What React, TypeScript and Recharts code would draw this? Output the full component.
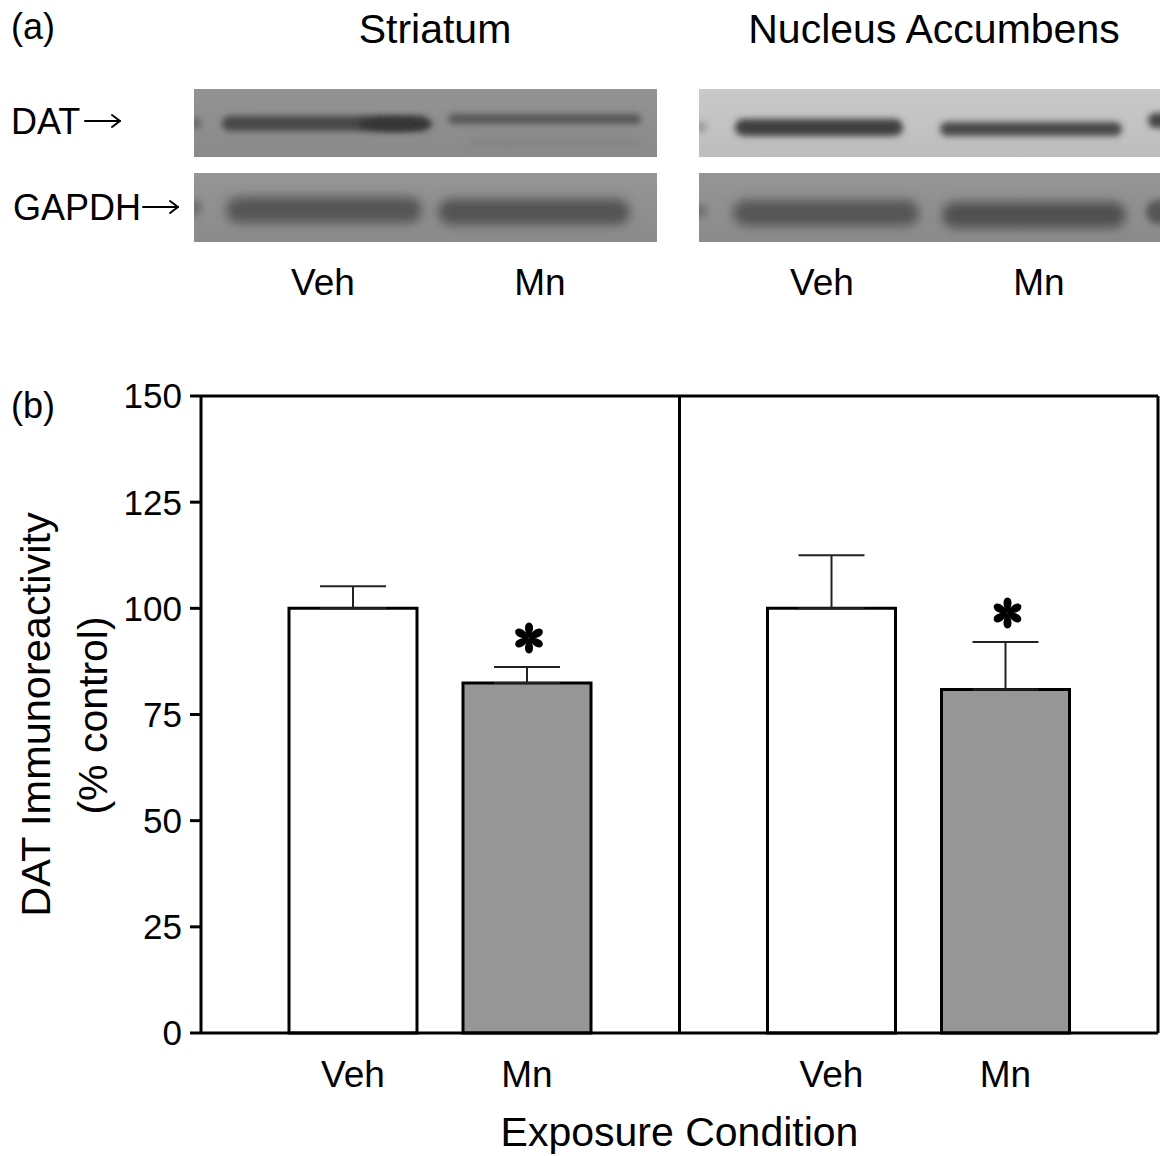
import React from 'react';
import {
  BarChart,
  Bar,
  XAxis,
  YAxis,
  ErrorBar,
  LabelList,
  CartesianGrid,
  Label,
} from 'recharts';

// ---------------- data ----------------
const regions = ['Striatum', 'Nucleus Accumbens'];
const conditions = ['Veh', 'Mn'];
const vehMean = [100, 100];
const vehSem = [5.2, 12.5];
const mnMean = [82.4, 80.9];
const mnSem = [3.8, 11.2];
const significant = [true, true];
const yTicks = [0, 25, 50, 75, 100, 125, 150];
const blotProteins = ['DAT', 'GAPDH'];

const data = regions.map((r, i) => ({
  region: r,
  veh: vehMean[i],
  vehErr: [0, vehSem[i]],
  mn: mnMean[i],
  mnErr: [0, mnSem[i]],
}));

const FONT = '"Liberation Sans", Arial, Helvetica, sans-serif';

// ---------------- panel (a): western blot ----------------
function Band(props: any) {
  const { x, y, w, h, fill, blur } = props;
  return (
    <rect x={x} y={y} width={w} height={h} rx={h / 2} ry={h / 2} fill={fill} filter={`url(#${blur})`} />
  );
}

function Arrow(props: any) {
  const { x, y, len } = props;
  return (
    <g stroke="#000" strokeWidth={2} fill="none" strokeLinecap="round" strokeLinejoin="round">
      <line x1={x} y1={y} x2={x + len} y2={y} />
      <polyline points={`${x + len - 8},${y - 6} ${x + len},${y} ${x + len - 8},${y + 6}`} />
    </g>
  );
}

function BlotPanel() {
  return (
    <svg width={1160} height={1156} style={{ position: 'absolute', left: 0, top: 0 }} fontFamily={FONT}>
      <defs>
        <filter id="b2" x="-30%" y="-200%" width="160%" height="500%">
          <feGaussianBlur stdDeviation="3" />
        </filter>
        <filter id="b3" x="-30%" y="-200%" width="160%" height="500%">
          <feGaussianBlur stdDeviation="3.5" />
        </filter>
        <filter id="b5" x="-30%" y="-200%" width="160%" height="500%">
          <feGaussianBlur stdDeviation="5.5" />
        </filter>
        <clipPath id="cL1"><rect x={194} y={89} width={463} height={68} /></clipPath>
        <clipPath id="cL2"><rect x={194} y={173} width={463} height={69} /></clipPath>
        <clipPath id="cR1"><rect x={699} y={89} width={461} height={68} /></clipPath>
        <clipPath id="cR2"><rect x={699} y={173} width={461} height={69} /></clipPath>
        <linearGradient id="gL1" x1="0" y1="0" x2="0" y2="1">
          <stop offset="0" stopColor="#939393" />
          <stop offset="1" stopColor="#8a8a8a" />
        </linearGradient>
        <linearGradient id="gR1" x1="0" y1="0" x2="0" y2="1">
          <stop offset="0" stopColor="#c9c9c9" />
          <stop offset="1" stopColor="#bdbdbd" />
        </linearGradient>
        <linearGradient id="gG" x1="0" y1="0" x2="0" y2="1">
          <stop offset="0" stopColor="#959595" />
          <stop offset="1" stopColor="#8b8b8b" />
        </linearGradient>
      </defs>

      <text x={11} y={39} fontSize={36} fill="#000">(a)</text>
      <text x={435} y={43} fontSize={41} textAnchor="middle" fill="#000">{regions[0]}</text>
      <text x={934} y={43} fontSize={41} textAnchor="middle" fill="#000">{regions[1]}</text>

      <text x={11} y={134} fontSize={36} fill="#000">{blotProteins[0]}</text>
      <Arrow x={85} y={121} len={35} />
      <text x={13} y={220} fontSize={36} fill="#000">{blotProteins[1]}</text>
      <Arrow x={143} y={207} len={35} />

      {/* Striatum DAT */}
      <g clipPath="url(#cL1)">
        <rect x={194} y={89} width={463} height={68} fill="url(#gL1)" />
        <Band x={222} y={116} w={206} h={15} fill="#474747" blur="b2" />
        <ellipse cx={395} cy={124} rx={38} ry={7} fill="#353535" filter="url(#b2)" />
        <Band x={448} y={114} w={193} h={10} fill="#575757" blur="b2" />
        <Band x={470} y={141} w={170} h={4} fill="#7e7e7e" blur="b2" />
        <Band x={188} y={118} w={14} h={10} fill="#6a6a6a" blur="b2" />
      </g>
      {/* Striatum GAPDH */}
      <g clipPath="url(#cL2)">
        <rect x={194} y={173} width={463} height={69} fill="url(#gG)" />
        <Band x={226} y={197} w={196} h={26} fill="#555" blur="b5" />
        <Band x={438} y={199} w={192} h={26} fill="#525252" blur="b5" />
        <Band x={188} y={200} w={14} h={16} fill="#6e6e6e" blur="b3" />
      </g>
      {/* NAc DAT */}
      <g clipPath="url(#cR1)">
        <rect x={699} y={89} width={461} height={68} fill="url(#gR1)" />
        <Band x={735} y={119} w={168} h={17} fill="#3f3f3f" blur="b2" />
        <Band x={940} y={122} w={182} h={14} fill="#4a4a4a" blur="b2" />
        <Band x={1148} y={113} w={30} h={15} fill="#444" blur="b2" />
        <Band x={693} y={122} w={14} h={10} fill="#9a9a9a" blur="b2" />
      </g>
      {/* NAc GAPDH */}
      <g clipPath="url(#cR2)">
        <rect x={699} y={173} width={461} height={69} fill="url(#gG)" />
        <Band x={733} y={200} w={186} h={26} fill="#545454" blur="b5" />
        <Band x={942} y={202} w={184} h={26} fill="#505050" blur="b5" />
        <Band x={1146} y={200} w={30} h={24} fill="#555" blur="b3" />
        <Band x={693} y={204} w={14} h={14} fill="#707070" blur="b3" />
      </g>

      <text x={323} y={295} fontSize={37} textAnchor="middle" fill="#000">{conditions[0]}</text>
      <text x={540} y={295} fontSize={37} textAnchor="middle" fill="#000">{conditions[1]}</text>
      <text x={822} y={295} fontSize={37} textAnchor="middle" fill="#000">{conditions[0]}</text>
      <text x={1039} y={295} fontSize={37} textAnchor="middle" fill="#000">{conditions[1]}</text>

      <text x={11} y={418} fontSize={36} fill="#000">(b)</text>
    </svg>
  );
}

// ---------------- panel (b): bar chart ----------------
const getBox = (props: any) => {
  const vb = props.viewBox && props.viewBox.width !== undefined ? props.viewBox : props;
  return { x: Number(vb.x), y: Number(vb.y), width: Number(vb.width), height: Number(vb.height) };
};

const conditionLabel = (ci: number) => (props: any) => {
  const { x, y, width, height } = getBox(props);
  return (
    <text x={x + width / 2} y={y + height + 54} textAnchor="middle" fontSize={37} fontFamily={FONT} fill="#000">
      {conditions[ci]}
    </text>
  );
};

const ARM = 'M0,0 C-5.2,-6 -5.5,-15 0,-15.5 C5.5,-15 5.2,-6 0,0 Z';

const sigMark = (props: any) => {
  const i = props.index;
  if (!significant[i]) return null;
  const { x, y, width, height } = getBox(props);
  const pxPerUnit = height / mnMean[i];
  const cx = x + width / 2 + 2;
  const cy = y - mnSem[i] * pxPerUnit - 29;
  return (
    <g transform={`translate(${cx},${cy})`}>
      {[0, 60, 120, 180, 240, 300].map((a) => (
        <path key={a} d={ARM} transform={`rotate(${a})`} fill="#000" />
      ))}
    </g>
  );
};

const YLabel = (props: any) => {
  const vb = props.viewBox || {};
  const cy = vb.y + vb.height / 2;
  return (
    <g fontFamily={FONT} fill="#000">
      <text transform={`translate(50, ${cy}) rotate(-90)`} textAnchor="middle" fontSize={41.5}>
        DAT Immunoreactivity
      </text>
      <text transform={`translate(107, ${cy + 1}) rotate(-90)`} textAnchor="middle" fontSize={41}>
        (% control)
      </text>
    </g>
  );
};

const XLabel = (props: any) => {
  const vb = props.viewBox || {};
  return (
    <text x={vb.x + vb.width / 2} y={vb.y + 113} textAnchor="middle" fontSize={41} fontFamily={FONT} fill="#000">
      Exposure Condition
    </text>
  );
};

function DatChart() {
  return (
    <div style={{ position: 'absolute', left: 0, top: 300 }}>
      <BarChart
        width={1160}
        height={856}
        data={data}
        margin={{ top: 96, right: 2, bottom: 0, left: 0 }}
        barGap={46}
        barSize={128}
      >
        <CartesianGrid
          stroke="#000"
          strokeWidth={3}
          horizontalCoordinatesGenerator={({ offset }: any) => [offset.top]}
          verticalCoordinatesGenerator={({ offset }: any) => [
            offset.left + offset.width / 2,
            offset.left + offset.width,
          ]}
        />
        <XAxis
          dataKey="region"
          height={123}
          tick={false}
          tickLine={false}
          axisLine={{ stroke: '#000', strokeWidth: 3 }}
        >
          <Label content={XLabel} />
        </XAxis>
        <YAxis
          domain={[0, 150]}
          ticks={yTicks}
          interval={0}
          width={201}
          tickSize={11}
          tickMargin={8}
          tick={{ fill: '#000', fontSize: 35, fontFamily: FONT }}
          tickLine={{ stroke: '#000', strokeWidth: 3 }}
          axisLine={{ stroke: '#000', strokeWidth: 3 }}
        >
          <Label content={YLabel} />
        </YAxis>
        <Bar dataKey="veh" fill="#ffffff" stroke="#000" strokeWidth={3} isAnimationActive={false}>
          <ErrorBar dataKey="vehErr" direction="y" width={33} stroke="#222" strokeWidth={2} />
          <LabelList dataKey="veh" content={conditionLabel(0)} />
        </Bar>
        <Bar dataKey="mn" fill="#969696" stroke="#000" strokeWidth={3} isAnimationActive={false}>
          <ErrorBar dataKey="mnErr" direction="y" width={33} stroke="#222" strokeWidth={2} />
          <LabelList dataKey="mn" content={conditionLabel(1)} />
          <LabelList dataKey="mn" content={sigMark} />
        </Bar>
      </BarChart>
    </div>
  );
}

export default function App() {
  return (
    <div style={{ position: 'absolute', left: 0, top: 0, width: 1160, height: 1156, background: '#fff' }}>
      <BlotPanel />
      <DatChart />
    </div>
  );
}
